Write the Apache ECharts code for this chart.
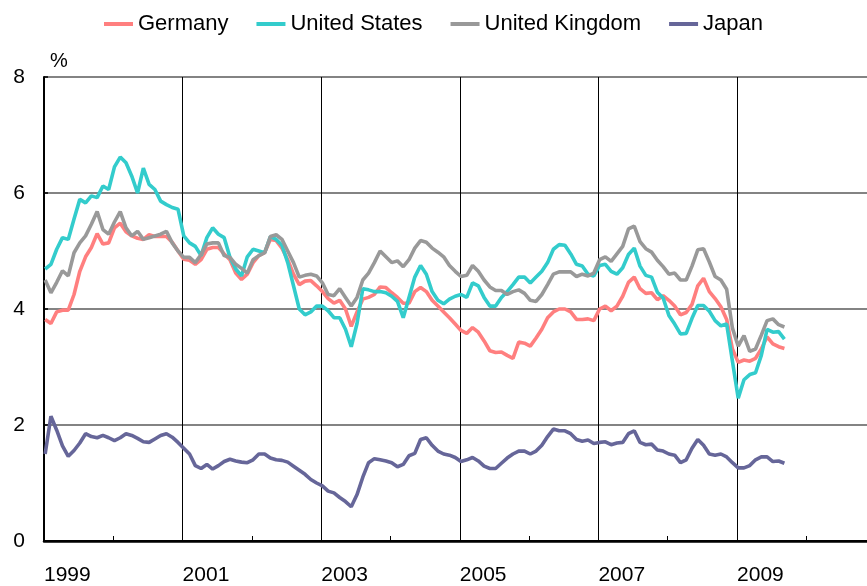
<!DOCTYPE html>
<html>
<head>
<meta charset="utf-8">
<script src="https://cdn.jsdelivr.net/npm/echarts@6/dist/echarts.min.js"></script>
<style>
html,body{margin:0;padding:0;background:#fff;}
#chart{width:867px;height:586px;}
</style>
</head>
<body>
<div id="chart"></div>
<script>
// Monthly values, Jan 1999 .. Sep 2009 (index 0 = Jan 1999)
const seriesNames = ['Germany', 'United States', 'United Kingdom', 'Japan'];
const startYear = 1999;

const germany = [
  3.82, 3.75, 3.95, 3.98, 3.98, 4.25, 4.65, 4.9, 5.06, 5.3, 5.12, 5.14,
  5.4, 5.48, 5.33, 5.26, 5.22, 5.2, 5.28, 5.25, 5.25, 5.25, 5.15, 5.0,
  4.86, 4.84, 4.77, 4.85, 5.03, 5.06, 5.06, 4.95, 4.85, 4.62, 4.51, 4.6,
  4.8, 4.92, 4.97, 5.2, 5.18, 5.05, 4.85, 4.6, 4.42, 4.48, 4.49, 4.4,
  4.3, 4.18, 4.1, 4.15, 4.0, 3.7, 3.95, 4.17, 4.2, 4.25, 4.38, 4.37,
  4.28, 4.2, 4.1, 4.1, 4.3, 4.37, 4.3, 4.15, 4.05, 3.95, 3.85, 3.74,
  3.63, 3.58, 3.68, 3.6, 3.45, 3.28, 3.25, 3.26, 3.2, 3.15, 3.43, 3.41,
  3.36, 3.5, 3.65, 3.85, 3.95, 4.0, 4.0, 3.95, 3.82, 3.82, 3.83, 3.8,
  4.0, 4.05, 3.97, 4.05, 4.22, 4.46, 4.55, 4.35, 4.27, 4.28, 4.16, 4.23,
  4.15, 4.05, 3.9, 3.94, 4.08, 4.4, 4.53, 4.3, 4.18, 4.04, 3.82, 3.31,
  3.08, 3.12, 3.1, 3.15, 3.31, 3.52, 3.4, 3.35, 3.32
];

const unitedStates = [
  4.69, 4.77, 5.03, 5.23, 5.2, 5.55, 5.89, 5.83, 5.95, 5.92, 6.12, 6.06,
  6.45, 6.62, 6.52, 6.29, 6.0, 6.43, 6.15, 6.06, 5.86, 5.8, 5.75, 5.72,
  5.26, 5.14, 5.08, 4.92, 5.23, 5.4, 5.29, 5.23, 4.89, 4.69, 4.57, 4.9,
  5.03, 5.0, 4.97, 5.25, 5.2, 5.1, 4.8, 4.4, 4.0, 3.9, 3.95, 4.05,
  4.05, 3.97, 3.85, 3.85, 3.65, 3.35, 3.75, 4.35, 4.33, 4.3, 4.3, 4.28,
  4.22, 4.13, 3.85, 4.2, 4.55, 4.75, 4.6, 4.3, 4.15, 4.09, 4.17, 4.22,
  4.25, 4.2, 4.45, 4.4, 4.2, 4.05, 4.05, 4.2, 4.3, 4.42, 4.55, 4.55,
  4.45, 4.55, 4.65, 4.8, 5.03, 5.11, 5.1, 4.95, 4.77, 4.74, 4.6, 4.57,
  4.75, 4.77, 4.65, 4.6, 4.71, 4.94, 5.05, 4.74, 4.58, 4.55, 4.29, 4.19,
  3.89, 3.74, 3.57, 3.58, 3.84, 4.06, 4.06, 3.96, 3.8, 3.71, 3.74, 3.1,
  2.46, 2.78, 2.87, 2.9, 3.2, 3.65, 3.6, 3.61, 3.48
];

const unitedKingdom = [
  4.5, 4.28, 4.46, 4.66, 4.57, 4.97, 5.14, 5.26, 5.46, 5.68, 5.37, 5.29,
  5.5, 5.68, 5.4, 5.26, 5.34, 5.2, 5.23, 5.26, 5.29, 5.34, 5.14, 5.0,
  4.89, 4.89, 4.8, 4.94, 5.12, 5.14, 5.14, 4.92, 4.89, 4.77, 4.7, 4.62,
  4.85, 4.92, 4.97, 5.25, 5.28, 5.2, 5.0, 4.8, 4.55, 4.58, 4.6, 4.57,
  4.45, 4.25, 4.23, 4.35, 4.2, 4.05, 4.2, 4.5, 4.62, 4.8, 5.0, 4.9,
  4.8, 4.83, 4.73, 4.85, 5.05, 5.18, 5.15, 5.05, 4.98, 4.9, 4.75, 4.65,
  4.56, 4.58, 4.75, 4.65, 4.5, 4.38, 4.32, 4.32, 4.25, 4.3, 4.33, 4.27,
  4.15, 4.13, 4.25, 4.42, 4.6, 4.64, 4.64, 4.64, 4.56, 4.6, 4.57, 4.62,
  4.85, 4.9, 4.82, 4.95, 5.08, 5.38, 5.43, 5.16, 5.04, 4.98, 4.84, 4.73,
  4.6, 4.62, 4.5, 4.5, 4.74, 5.02, 5.04, 4.81, 4.56, 4.5, 4.34, 3.67,
  3.36, 3.54, 3.27, 3.31, 3.55, 3.8, 3.83, 3.73, 3.69
];

const japan = [
  1.5, 2.15, 1.91, 1.64, 1.46, 1.56, 1.69, 1.85, 1.8, 1.78, 1.82, 1.78,
  1.73, 1.78, 1.85, 1.82, 1.77, 1.71, 1.7, 1.76, 1.82, 1.85, 1.79, 1.7,
  1.6, 1.5, 1.3, 1.25, 1.32, 1.24, 1.3, 1.37, 1.41, 1.38, 1.36, 1.35,
  1.4, 1.5, 1.5, 1.43, 1.4, 1.39, 1.36, 1.29, 1.22, 1.15, 1.06, 1.0,
  0.95, 0.86, 0.83, 0.75, 0.68, 0.59, 0.8, 1.1, 1.35, 1.42, 1.4, 1.38,
  1.35, 1.28, 1.32, 1.47, 1.51, 1.75, 1.78, 1.65, 1.55, 1.5, 1.48, 1.44,
  1.37, 1.4, 1.44, 1.38, 1.29, 1.25, 1.25, 1.34, 1.43, 1.5, 1.55, 1.55,
  1.5, 1.55, 1.65, 1.8, 1.93, 1.9, 1.9, 1.85, 1.75, 1.72, 1.74, 1.68,
  1.7, 1.71, 1.66, 1.69, 1.7, 1.85, 1.9, 1.7, 1.66, 1.67, 1.57, 1.55,
  1.5, 1.48, 1.35, 1.4, 1.6, 1.75, 1.65, 1.5, 1.48, 1.5, 1.45, 1.35,
  1.26, 1.26, 1.3, 1.4, 1.45, 1.45, 1.37, 1.38, 1.34
];

const yTicks = [0, 2, 4, 6, 8];
const colors = ['#ff7f7f', '#33cccc', '#999999', '#666699'];
const allValues = [germany, unitedStates, unitedKingdom, japan];

const FONT = '"Liberation Sans", Arial, sans-serif';
const chart = echarts.init(document.getElementById('chart'), null, {renderer: 'canvas'});

const toPoints = arr => arr.map((v, i) => [i + 0.2, v]);

chart.setOption({
  animation: false,
  backgroundColor: '#ffffff',
  color: colors,
  textStyle: {fontFamily: FONT},
  legend: {
    data: seriesNames,
    top: 8,
    left: 'center',
    icon: 'rect',
    itemWidth: 29,
    itemHeight: 4,
    itemGap: 28,
    textStyle: {fontSize: 22, color: '#000', fontFamily: FONT}
  },
  grid: {left: 44, right: 0, top: 77, bottom: 43, containLabel: false},
  xAxis: [{
    type: 'value',
    min: 0,
    max: 142.5,
    interval: 24,
    axisLine: {show: true, onZero: false, lineStyle: {color: '#000', width: 2.5}},
    axisTick: {show: true, inside: true, length: 5, lineStyle: {color: '#000', width: 1}},
    minorTick: {show: true, splitNumber: 2, length: 5, lineStyle: {color: '#000', width: 1}},
    splitLine: {show: true, lineStyle: {color: '#000', width: 1}},
    axisLabel: {
      show: true,
      align: 'left',
      margin: 24,
      fontSize: 21,
      color: '#000',
      fontFamily: FONT,
      showMaxLabel: false,
      formatter: v => (v % 24 === 0 ? String(startYear + v / 12) : '')
    }
  }, {
    type: 'value',
    position: 'top',
    min: 0,
    max: 142.5,
    interval: 24,
    axisLine: {show: true, lineStyle: {color: '#000', width: 2}},
    axisTick: {show: false},
    axisLabel: {show: false},
    splitLine: {show: false}
  }],
  yAxis: {
    type: 'value',
    min: yTicks[0],
    max: yTicks[yTicks.length - 1],
    interval: 2,
    name: '%',
    nameLocation: 'end',
    nameGap: 6,
    nameTextStyle: {fontSize: 20, color: '#000', align: 'left', verticalAlign: 'bottom', padding: [0, 0, 0, 6], fontFamily: FONT},
    axisLine: {show: true, lineStyle: {color: '#000', width: 2}},
    axisTick: {show: true, inside: true, length: 4, lineStyle: {color: '#000', width: 1.5}},
    splitLine: {show: true, lineStyle: {color: '#5a5a5a', width: 1.5}},
    axisLabel: {fontSize: 21, color: '#000', margin: 19, fontFamily: FONT}
  },
  series: seriesNames.map((name, k) => ({
    name: name,
    type: 'line',
    xAxisIndex: 0,
    data: toPoints(allValues[k]),
    symbol: 'none',
    smooth: false,
    lineStyle: {width: 3.6, color: colors[k]},
    itemStyle: {color: colors[k]},
    z: 3 + k
  }))
});
</script>
</body>
</html>
